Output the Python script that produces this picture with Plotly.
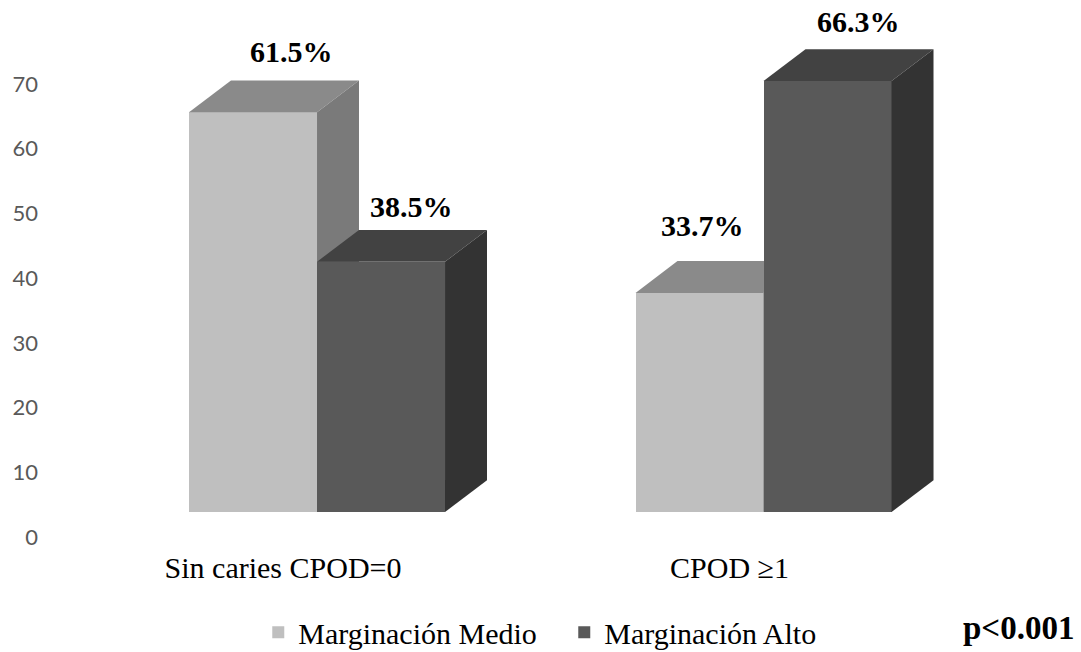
import plotly.graph_objects as go

# Data
categories = ["Sin caries CPOD=0", "CPOD ≥1"]
series_names = ["Marginación Medio", "Marginación Alto"]
medio = [61.5, 33.7]
alto = [38.5, 66.3]
y_ticks = [0, 10, 20, 30, 40, 50, 60, 70]

# Styling for the pseudo-3D columns
BAR_W = 0.2867          # width of each column (x units)
DEPTH_X = 0.094         # receding depth, horizontal (x units)
DEPTH_Y = 4.9           # receding depth, vertical (y units)
palette = {
    "Marginación Medio": {"front": "#BFBFBF", "top": "#8A8A8A", "side": "#7A7A7A"},
    "Marginación Alto": {"front": "#595959", "top": "#424242", "side": "#333333"},
}
label_shift = {  # (xshift, yshift) in px for value labels
    ("Marginación Medio", 0): (38, 10),
    ("Marginación Alto", 0): (30, 5),
    ("Marginación Medio", 1): (3, 17),
    ("Marginación Alto", 1): (31, 9),
}

x_pos = list(range(len(categories)))
fig = go.Figure()
annotations = []

for s_idx, (name, values) in enumerate(zip(series_names, [medio, alto])):
    offset = -BAR_W if s_idx == 0 else 0.0
    cols = palette[name]
    fig.add_trace(go.Bar(
        x=x_pos, y=values, name=name, width=BAR_W, offset=offset,
        marker=dict(color=cols["front"], line=dict(width=0)),
        zorder=2 * s_idx, hoverinfo="skip",
    ))
    for i, v in enumerate(values):
        x0 = x_pos[i] + offset
        x1 = x0 + BAR_W
        # top face
        fig.add_trace(go.Scatter(
            x=[x0, x1, x1 + DEPTH_X, x0 + DEPTH_X, x0],
            y=[v, v, v + DEPTH_Y, v + DEPTH_Y, v],
            fill="toself", fillcolor=cols["top"], mode="lines",
            line=dict(width=0, color=cols["top"]), showlegend=False,
            hoverinfo="skip", zorder=2 * s_idx + 1,
        ))
        # right side face
        fig.add_trace(go.Scatter(
            x=[x1, x1 + DEPTH_X, x1 + DEPTH_X, x1, x1],
            y=[0, DEPTH_Y, v + DEPTH_Y, v, 0],
            fill="toself", fillcolor=cols["side"], mode="lines",
            line=dict(width=0, color=cols["side"]), showlegend=False,
            hoverinfo="skip", zorder=2 * s_idx + 1,
        ))
        xs, ys = label_shift[(name, i)]
        annotations.append(dict(
            x=x0 + BAR_W / 2, y=v + DEPTH_Y, xref="x", yref="y",
            text=f"<b>{v:.1f}%</b>", showarrow=False,
            xanchor="center", yanchor="bottom", xshift=xs, yshift=ys,
            font=dict(family="Liberation Serif", size=30, color="#000000"),
        ))

# Invisible trace so the value axis is drawn
fig.add_trace(go.Scatter(x=[0], y=[0], yaxis="y2", mode="markers",
                         marker=dict(opacity=0), showlegend=False, hoverinfo="skip"))

annotations.append(dict(
    x=1.0, y=-0.155, xref="paper", yref="paper", text="<b>p<0.001</b>",
    showarrow=False, xanchor="right", yanchor="middle", xshift=-5,
    font=dict(family="Liberation Serif", size=33, color="#000000"),
))

fig.update_layout(
    width=1081, height=652,
    margin=dict(l=50, r=0, t=10, b=107, autoexpand=False),
    paper_bgcolor="white", plot_bgcolor="white",
    barmode="overlay", bargap=0,
    showlegend=True,
    legend=dict(orientation="h", x=0.202, y=-0.163, xanchor="left", yanchor="middle",
                font=dict(family="Liberation Serif", size=30, color="#000000"),
                entrywidth=261, entrywidthmode="pixels",
                itemsizing="constant", traceorder="normal"),
    xaxis=dict(range=[-0.598, 1.711], tickvals=x_pos, ticktext=categories,
               showgrid=False, zeroline=False, showline=False, ticks="",
               ticklabelshift=-34, ticklabelstandoff=2,
               tickfont=dict(family="Liberation Serif", size=30, color="#000000")),
    yaxis=dict(range=[-5.077, 77.231], showgrid=False, zeroline=False,
               showticklabels=False, showline=False, ticks=""),
    yaxis2=dict(range=[-1.236, 81.435], overlaying="y", side="left",
                tickvals=y_ticks, showgrid=False, zeroline=False, showline=False,
                ticks="", ticklabelstandoff=11,
                tickfont=dict(family="Lato", size=22, color="#595959")),
    annotations=annotations,
)

fig.write_html("out.html")
